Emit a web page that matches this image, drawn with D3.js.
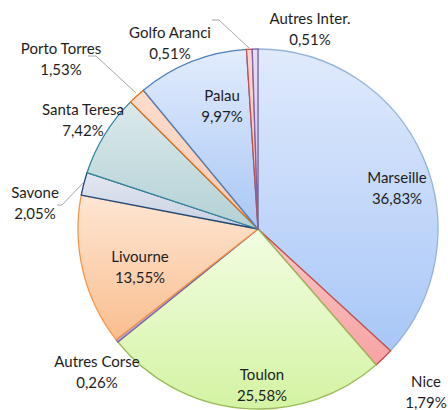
<!DOCTYPE html>
<html>
<head>
<meta charset="utf-8">
<script src="https://cdn.jsdelivr.net/npm/d3@7"></script>
<style>
  body { margin: 0; background: #fff; }
  text { font-family: Lato, "Open Sans", sans-serif; font-size: 15px; fill: #1e1e1e; }
</style>
</head>
<body>
<div id="viz"></div>
<script>
// data, clockwise from 12 o'clock
var ports = ['Marseille', 'Nice', 'Toulon', 'Autres Corse', 'Livourne', 'Savone',
  'Santa Teresa', 'Porto Torres', 'Palau', 'Golfo Aranci', 'Autres Inter.'];
var shares = [36.83, 1.79, 25.58, 0.26, 13.55, 2.05, 7.42, 1.53, 9.97, 0.51, 0.51];
var pctLabels = ['36,83%', '1,79%', '25,58%', '0,26%', '13,55%', '2,05%',
  '7,42%', '1,53%', '9,97%', '0,51%', '0,51%'];

// gradient top / bottom colours and border per slice
var topCol = ['#e0eafc', '#fac6c6', '#f2fde3', '#d3c6ea', '#fee6d4', '#e3e7f0',
  '#dbe9eb', '#fddccd', '#e2ecfc', '#fad6d6', '#e6def3'];
var botCol = ['#a8c7f7', '#f7a3a3', '#d4f3a2', '#b9a6d8', '#f9be8f', '#c8d0e2',
  '#b3d1d5', '#fbcab4', '#a9c7f6', '#f6bcbc', '#cdbfe6'];
var lineCol = ['#95b3d7', '#c0504d', '#9bbb59', '#8064a2', '#f79646', '#1f497d',
  '#31859c', '#e46c0a', '#4f81bd', '#c0504d', '#8064a2'];

// label centres (first line)
var labelPos = [[397, 178], [426, 382], [262, 375], [97, 362], [140, 257], [35, 193],
  [83, 110], [61, 49], [222, 96], [170, 33], [310, 19]];

// leader lines for the small outside labels
var leaders = [
  [[57, 205], [62, 205], [83, 183]],
  [[88, 56], [96, 56], [136, 93]],
  [[212, 20], [219, 20], [249, 48]]
];

var width = 448, height = 410;
var cx = 258, cy = 229, radius = 180;

var svg = d3.select('#viz').append('svg')
  .attr('width', width)
  .attr('height', height);

var defs = svg.append('defs');
ports.forEach(function (p, i) {
  var g = defs.append('linearGradient')
    .attr('id', 'grad' + i)
    .attr('x1', 0).attr('y1', 0).attr('x2', 0).attr('y2', 1);
  g.append('stop').attr('offset', '0%').attr('stop-color', topCol[i]);
  g.append('stop').attr('offset', '100%').attr('stop-color', botCol[i]);
});

var pie = d3.pie().sort(null).value(function (d) { return d; });
var arc = d3.arc().innerRadius(0).outerRadius(radius);

var chart = svg.append('g')
  .attr('transform', 'translate(' + cx + ',' + cy + ')');

chart.selectAll('.slice')
  .data(pie(shares))
  .enter()
  .append('path')
  .attr('class', 'slice')
  .attr('d', arc)
  .attr('fill', function (d, i) { return 'url(#grad' + i + ')'; })
  .attr('stroke', function (d, i) { return lineCol[i]; })
  .attr('stroke-width', 1.3)
  .attr('stroke-linejoin', 'round');

// leader lines
var line = d3.line();
svg.selectAll('.leader')
  .data(leaders)
  .enter()
  .append('path')
  .attr('class', 'leader')
  .attr('d', line)
  .attr('fill', 'none')
  .attr('stroke', '#a6a6a6')
  .attr('stroke-width', 1);

// labels: name on first line, share below
var labels = svg.selectAll('.lbl')
  .data(ports)
  .enter()
  .append('text')
  .attr('class', 'lbl')
  .attr('text-anchor', 'middle');

labels.append('tspan')
  .attr('x', function (d, i) { return labelPos[i][0]; })
  .attr('y', function (d, i) { return labelPos[i][1] + 5; })
  .text(function (d) { return d; });

labels.append('tspan')
  .attr('x', function (d, i) { return labelPos[i][0]; })
  .attr('y', function (d, i) { return labelPos[i][1] + 26; })
  .text(function (d, i) { return pctLabels[i]; });
</script>
</body>
</html>
